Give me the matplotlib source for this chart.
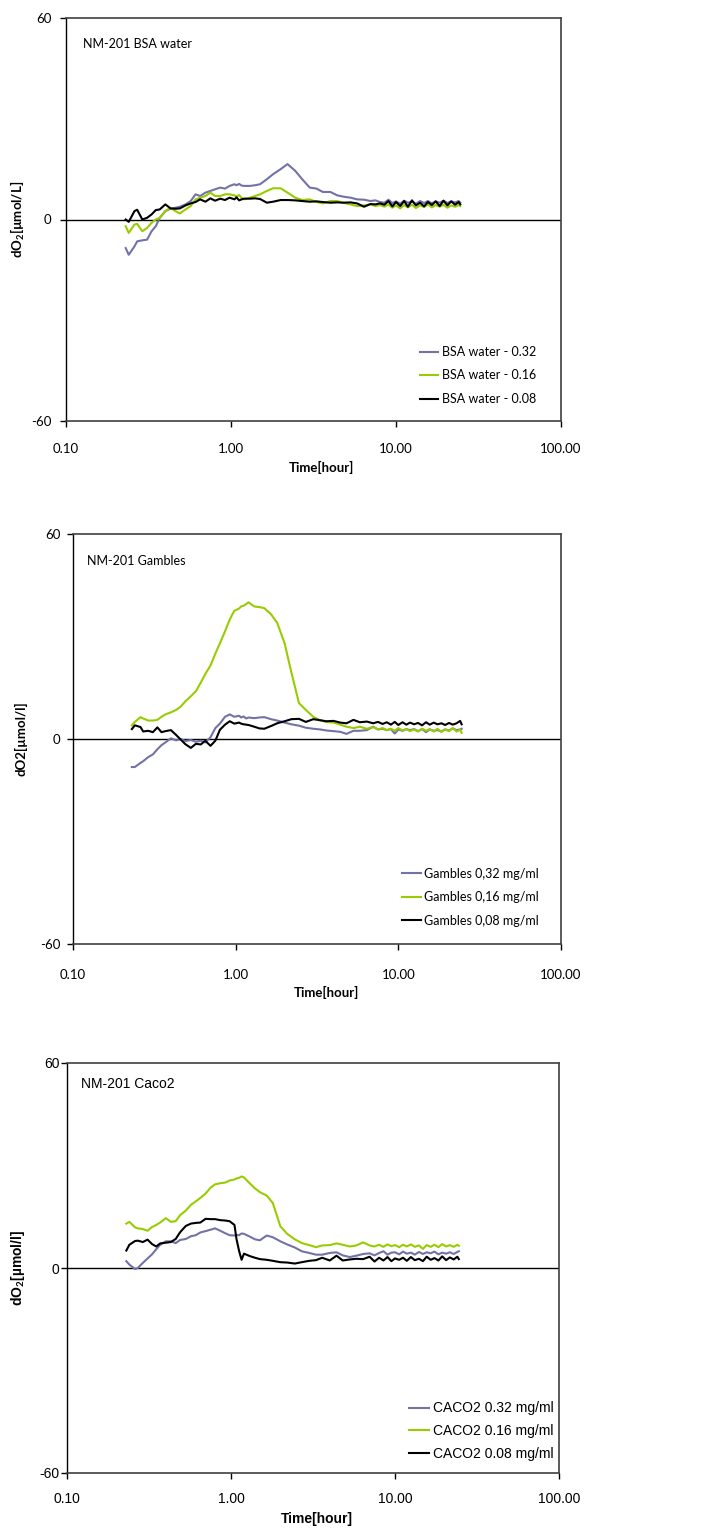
import matplotlib
matplotlib.use("Agg")
import matplotlib.pyplot as plt

# ---------------- data ----------------
TIME_H = [0.23, 0.24, 0.26, 0.27, 0.29, 0.31, 0.33, 0.35, 0.37, 0.40,
          0.43, 0.46, 0.49, 0.53, 0.57, 0.61, 0.65, 0.70, 0.75, 0.80,
          0.86, 0.92, 0.98, 1.05, 1.08, 1.12, 1.16, 1.2, 1.3, 1.4,
          1.5, 1.65, 1.8, 2.0, 2.2, 2.45, 2.7, 3.0, 3.3, 3.6,
          4.0, 4.4, 4.8, 5.3, 5.8, 6.4,
          7.0, 7.5, 8.0, 8.5, 9.0, 9.5, 10.0, 10.6, 11.2, 11.8,
          12.5, 13.2, 14.0, 14.8, 15.6, 16.5, 17.4, 18.4, 19.4, 20.5,
          21.6, 22.8, 24.0, 24.5]

# Panel 1: BSA water
bsa_032 = [-8.5, -10.5, -8, -6.5, -6.2, -6, -3.5, -2, 0.5, 2.5,
           3.2, 3.5, 3.8, 4.5, 5.5, 7.5, 7, 8, 8.5, 9,
           9.5, 9.2, 10, 10.5, 10.2, 10.6, 10.1, 10, 10, 10.2,
           10.5, 12, 13.5, 15, 16.5, 14.5, 12, 9.5, 9.2, 8.2,
           8.2, 7.2, 6.8, 6.5, 6, 5.9,
           5.5, 5.7, 5.2, 5.0, 5.9, 4.9, 5.4, 4.7, 5.6, 5.0,
           5.3, 4.7, 5.5, 4.9, 5.5, 4.8, 5.4, 5.0, 5.6, 4.9,
           5.4, 5.1, 5.5, 5.0]
bsa_016 = [-2, -4, -1.5, -1.3, -3.5, -2.5, -1, 0, 0.5, 2.5,
           3.5, 2.5, 1.8, 3, 4, 6, 6.5, 7, 8, 7,
           7, 7.5, 7.5, 7.2, 6.8, 7.3, 6.4, 6, 6.5, 7,
           7.5, 8.5, 9.3, 9.3, 8, 6.5, 5.8, 6, 5.2, 4.8,
           5.5, 5.5, 5, 4.5, 4, 4.2,
           4.5, 4.0, 4.3, 3.8, 4.5, 3.5, 4.2, 3.3, 4.3, 3.6,
           4.4, 3.4, 4.2, 3.7, 4.5, 3.6, 4.3, 3.8, 4.4, 3.5,
           4.2, 3.8, 4.3, 4.0]
bsa_008 = [0, -0.7, 2.5, 2.9, 0, 0.5, 1.5, 2.8, 3, 4.5,
           3.3, 3.2, 3.3, 4.2, 4.8, 5.2, 6, 5.3, 6.3, 5.6,
           6.2, 5.8, 6.5, 6, 6.6, 5.7, 6.0, 6.2, 6.2, 6.3,
           6.1, 5, 5.3, 5.8, 5.8, 5.7, 5.5, 5.3, 5.4, 5.2,
           5, 5.1, 5, 5.1, 4.8, 3.8,
           4.6, 4.5, 4.8, 4.4, 5.5, 3.9, 5.2, 4.0, 5.5, 3.8,
           5.7, 4.2, 5.0, 3.9, 5.2, 4.3, 5.4, 4.0, 5.6, 4.2,
           5.4, 4.4, 5.2, 4.5]

# Panel 2: Gambles
gam_032 = [-8.2, -8.2, -7, -6.5, -5.3, -4.5, -3, -1.8, -1, 0.2,
           -0.4, 0, -0.6, -0.3, -0.8, -0.5, -1, 0.5, 3.2, 4.5,
           6.5, 7.2, 6.5, 6.8, 6.3, 6.6, 6.0, 6.3, 6.1, 6.3,
           6.4, 5.8, 5.4, 4.8, 4.3, 3.9, 3.3, 3, 2.8, 2.5,
           2.3, 2.1, 1.5, 2.4, 2.4, 2.6,
           3.6, 2.8, 3.0, 2.6, 2.9, 1.6, 2.8, 2.4, 2.9, 2.6,
           2.9, 2.3, 2.9, 2.0, 2.8, 2.4, 2.6, 2.2, 2.8, 2.5,
           3.1, 2.6, 2.8, 3.0]
gam_016 = [4, 5, 6.4, 6, 5.4, 5.4, 5.6, 6.5, 7.2, 7.8,
           8.5, 9.5, 11, 12.5, 14, 16.5, 19, 21.5, 25, 28,
           31.5, 35, 37.5, 38.2, 38.8, 39, 39.5, 40, 38.8, 38.6,
           38.3, 36.5, 34, 28, 19.5, 10.5, 8.5, 6.5, 5.5, 5,
           4.8, 4.2, 3.6, 3.2, 3.6, 3,
           3.5, 2.8, 3.2, 2.6, 3.0, 2.4, 3.2, 2.5, 2.9, 2.3,
           2.8, 2.2, 3.0, 2.4, 2.9, 2.2, 3.0, 2.1, 2.8, 2.3,
           3.2, 2.2, 2.7, 1.8]
gam_008 = [2.9, 4, 3.5, 2.2, 2.4, 2, 3.4, 2, 2.3, 2.6,
           1.2, -0.2, -1.5, -2.6, -1.4, -1.6, -0.5, -2, -0.5, 2.7,
           4.2, 5.2, 4.5, 4.8, 4.5, 4.3, 4.2, 4.1, 3.6, 3.1,
           3, 3.8, 4.6, 5.2, 5.8, 5.9, 5, 5.8, 5.5, 5.2,
           5.3, 4.8, 4.6, 5.6, 4.9, 5.1,
           4.6, 5.0, 4.4, 4.9, 4.2, 5.0, 4.1, 4.9, 4.2, 4.8,
           4.3, 4.7, 4.0, 4.9, 4.2, 4.8, 4.3, 4.6, 4.1, 4.7,
           4.2, 4.6, 5.3, 4.3]

# Panel 3: Caco2
cac_032 = [2, 1, -0.3, 0, 1.5, 2.8, 4, 5.5, 6.8, 7.8,
           7.8, 7.3, 8.2, 8.5, 9.3, 9.6, 10.4, 10.8, 11.2, 11.6,
           10.9, 10.2, 9.6, 9.5, 9.7, 9.6, 10.1, 10, 9.2, 8.4,
           8.1, 9.5, 9.0, 7.8, 6.9, 6, 4.9, 4.4, 3.9, 3.9,
           4.4, 4.6, 3.7, 3.2, 3.6, 4.1,
           4.3, 3.7, 4.4, 4.9, 3.9, 4.5, 4.6, 4.0, 4.8, 4.2,
           4.5, 3.9, 4.7, 4.1, 4.6, 4.3, 4.8, 4.0, 4.5, 4.2,
           4.6, 4.1, 4.7, 4.9]
cac_016 = [13, 13.5, 11.9, 11.6, 11.4, 10.9, 12, 12.6, 13.3, 14.6,
           13.5, 13.7, 15.5, 16.8, 18.5, 19.5, 20.5, 21.8, 23.5, 24.5,
           24.8, 25, 25.6, 25.9, 26.2, 26.4, 26.8, 26.5, 24.8, 23.3,
           22.2, 21.2, 19, 12.2, 10, 8.4, 7.3, 6.7, 6.1, 6.6,
           6.7, 7.2, 6.8, 6.3, 6.6, 7.5,
           6.6, 6.3, 6.8, 6.2, 6.9, 6.4, 6.7, 6.1, 6.8, 6.3,
           6.9, 6.2, 6.6, 5.6, 6.7, 6.2, 6.8, 6.1, 7.0, 6.3,
           6.7, 6.2, 6.8, 6.5]
cac_008 = [5.1, 6.8, 7.9, 8, 7.6, 8.3, 7, 6.3, 7.2, 7.4,
           7.6, 8.5, 10.5, 12.3, 13, 13.2, 13.3, 14.4, 14.3, 14.3,
           14, 13.9, 13.7, 12.6, 8.5, 5, 2.4, 4.2, 3.5, 3,
           2.6, 2.4, 2.1, 1.7, 1.6, 1.3, 1.7, 2.1, 2.3, 3.0,
           2.2, 3.6, 2.2, 2.5, 2.7, 2.6,
           3.3, 1.9, 3.0, 2.2, 3.2, 2.0, 2.8, 2.4, 3.0, 2.1,
           3.2, 2.3, 2.7, 2.0, 3.3, 2.4, 2.9, 2.2, 3.4, 2.3,
           3.1, 2.5, 3.3, 2.6]

XTICKS = [0.1, 1, 10, 100]
XTICK_LABELS = ["0.10", "1.00", "10.00", "100.00"]
YTICKS = [-60, 0, 60]
YTICK_LABELS = ["-60", "0", "60"]

PANELS = [
    dict(title="NM-201 BSA water", ylabel=r"dO$_\mathbf{2}$[µmol/L]",
         series=[bsa_032, bsa_016, bsa_008],
         labels=["BSA water - 0.32", "BSA water - 0.16", "BSA water - 0.08"]),
    dict(title="NM-201 Gambles", ylabel="dO2[µmol/l]",
         series=[gam_032, gam_016, gam_008],
         labels=["Gambles 0,32 mg/ml", "Gambles 0,16 mg/ml", "Gambles 0,08 mg/ml"]),
    dict(title="NM-201 Caco2", ylabel=r"dO$_\mathbf{2}$[µmol/l]",
         series=[cac_032, cac_016, cac_008],
         labels=["CACO2 0.32 mg/ml", "CACO2 0.16 mg/ml", "CACO2 0.08 mg/ml"]),
]

# ---------------- style / layout ----------------
COLORS = ["#7272A8", "#99CC00", "#000000"]
W, H = 704, 1531
plt.rcParams["mathtext.fontset"] = "custom"
plt.rcParams["mathtext.rm"] = "Lato"
plt.rcParams["mathtext.bf"] = "Lato:bold"

# (left, top, right, bottom) in pixels
BOXES = [(66, 18, 561, 421), (73, 534, 561, 944), (67, 1063, 559, 1473)]
FONTS = ["Lato", "Lato", "Liberation Sans"]
TXT_SIZE = [9, 9, 10]
TICK_SIZE = [9.5, 9.5, 10]
TITLE_POS = [(0.034, 0.935), (0.029, 0.934), (0.028, 0.949)]
YLAB_X = [-0.079, -0.094, -0.081]
XLAB_POS = [(0.517, -0.099), (0.520, -0.102), (0.508, -0.095)]
LEG_ANCHOR = [(0.950, 0.040), (0.955, 0.042), (0.99, 0.030)]
LEG_SPACING = [0.92, 0.92, 0.62]
YPAD = [6.5, 5, 1.5]
XPAD = [12, 14, 9.7]

fig = plt.figure(figsize=(W / 100, H / 100), dpi=100)
for i, p in enumerate(PANELS):
    l, t, r, b = BOXES[i]
    ax = fig.add_axes([l / W, 1 - b / H, (r - l) / W, (b - t) / H])
    fam = FONTS[i]
    for s, lab, c in zip(p["series"], p["labels"], COLORS):
        ax.plot(TIME_H, s, color=c, lw=1.5, label=lab)
    ax.axhline(0, color="black", lw=1.0, zorder=1)
    ax.set_xscale("log")
    ax.set_xlim(0.1, 100)
    ax.set_ylim(-60, 60)
    ax.set_xticks(XTICKS)
    ax.set_xticklabels(XTICK_LABELS, fontfamily=fam, fontsize=TICK_SIZE[i])
    ax.xaxis.set_minor_locator(matplotlib.ticker.NullLocator())
    ax.set_yticks(YTICKS)
    ax.set_yticklabels(YTICK_LABELS, fontfamily=fam, fontsize=TICK_SIZE[i])
    ax.tick_params(axis="x", direction="out", length=4, width=1, pad=XPAD[i])
    ax.tick_params(axis="y", direction="out", length=4, width=1, pad=YPAD[i])
    for side in ["top", "right", "bottom"]:
        ax.spines[side].set_color("#404040")
        ax.spines[side].set_linewidth(1.2)
    ax.spines["left"].set_color("black")
    ax.spines["left"].set_linewidth(1.0)
    ax.text(TITLE_POS[i][0], TITLE_POS[i][1], p["title"], transform=ax.transAxes,
            fontfamily=fam, fontsize=TXT_SIZE[i], ha="left", va="center")
    ax.set_ylabel(p["ylabel"], fontfamily=fam, fontsize=TICK_SIZE[i], fontweight="bold")
    ax.yaxis.set_label_coords(YLAB_X[i], 0.5)
    ax.set_xlabel("Time[hour]", fontfamily=fam, fontsize=TICK_SIZE[i], fontweight="bold")
    ax.xaxis.set_label_coords(*XLAB_POS[i])
    ax.legend(loc="lower right", bbox_to_anchor=LEG_ANCHOR[i], frameon=False,
              prop={"family": fam, "size": TXT_SIZE[i]}, handlelength=1.45,
              handletextpad=0.3, labelspacing=LEG_SPACING[i], borderpad=0,
              borderaxespad=0)

fig.savefig("out.png", dpi=100)
